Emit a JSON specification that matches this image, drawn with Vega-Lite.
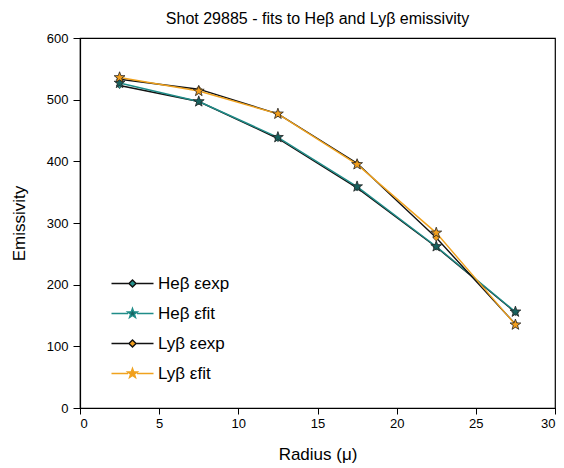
{
  "$schema": "https://vega.github.io/schema/vega-lite/v6.json",
  "width": 475,
  "height": 370,
  "autosize": "none",
  "padding": {"left": 80, "top": 38, "right": 9, "bottom": 60},
  "background": "white",
  "config": {
    "font": "Liberation Sans",
    "view": {"stroke": "black", "strokeWidth": 1.2},
    "axis": {
      "domainColor": "black",
      "domainWidth": 1.2,
      "tickColor": "black",
      "tickWidth": 1,
      "labelColor": "black",
      "labelFont": "Liberation Sans",
      "labelFontSize": 13,
      "titleFont": "Liberation Sans",
      "titleFontSize": 17,
      "titleFontWeight": "normal",
      "titleColor": "black",
      "grid": false,
      "labelOverlap": false
    },
    "title": {"font": "Liberation Sans", "fontSize": 16, "fontWeight": "normal", "color": "black"}
  },
  "title": {"text": "Shot 29885 - fits to Heβ and Lyβ emissivity", "offset": 5},
  "data": {
    "values": [
      {"series": "Heβ εexp", "r": 2.5, "e": 523},
      {"series": "Heβ εexp", "r": 7.5, "e": 497},
      {"series": "Heβ εexp", "r": 12.5, "e": 437},
      {"series": "Heβ εexp", "r": 17.5, "e": 357},
      {"series": "Heβ εexp", "r": 22.5, "e": 261},
      {"series": "Heβ εexp", "r": 27.5, "e": 155},
      {"series": "Heβ εfit", "r": 2.5, "e": 527},
      {"series": "Heβ εfit", "r": 7.5, "e": 497},
      {"series": "Heβ εfit", "r": 12.5, "e": 439},
      {"series": "Heβ εfit", "r": 17.5, "e": 359},
      {"series": "Heβ εfit", "r": 22.5, "e": 262},
      {"series": "Heβ εfit", "r": 27.5, "e": 156},
      {"series": "Lyβ εexp", "r": 2.5, "e": 533},
      {"series": "Lyβ εexp", "r": 7.5, "e": 517},
      {"series": "Lyβ εexp", "r": 12.5, "e": 477},
      {"series": "Lyβ εexp", "r": 17.5, "e": 397},
      {"series": "Lyβ εexp", "r": 22.5, "e": 276},
      {"series": "Lyβ εexp", "r": 27.5, "e": 136},
      {"series": "Lyβ εfit", "r": 2.5, "e": 536},
      {"series": "Lyβ εfit", "r": 7.5, "e": 514},
      {"series": "Lyβ εfit", "r": 12.5, "e": 477},
      {"series": "Lyβ εfit", "r": 17.5, "e": 395},
      {"series": "Lyβ εfit", "r": 22.5, "e": 284},
      {"series": "Lyβ εfit", "r": 27.5, "e": 135}
    ]
  },
  "layer": [
    {
      "transform": [{"filter": "datum.e < 0"}],
      "mark": {"type": "point", "filled": true, "opacity": 1},
      "encoding": {
        "stroke": {
          "field": "series", "type": "nominal",
          "scale": {
            "domain": ["Heβ εexp", "Heβ εfit", "Lyβ εexp", "Lyβ εfit"],
            "range": ["#111111", "#1f8c88", "#111111", "#f0a21e"]
          },
          "legend": {
            "title": null,
            "orient": "none",
            "legendX": 44,
            "legendY": 237,
            "padding": 0,
            "symbolSize": 36,
            "symbolStrokeWidth": 1.4,
            "symbolOffset": 0,
            "labelOffset": 17,
            "labelFontSize": 17,
            "labelFont": "Liberation Sans",
            "labelColor": "black",
            "rowPadding": 12
          }
        },
        "fill": {
          "field": "series", "type": "nominal",
          "scale": {
            "domain": ["Heβ εexp", "Heβ εfit", "Lyβ εexp", "Lyβ εfit"],
            "range": ["#24918c", "#17625f", "#f29e1c", "#f29e1c"]
          }
        },
        "shape": {
          "field": "series", "type": "nominal",
          "scale": {
            "domain": ["Heβ εexp", "Heβ εfit", "Lyβ εexp", "Lyβ εfit"],
            "range": [
              "M-7,0H-1.2M1.2,0H7M0,-1.2L1.2,0L0,1.2L-1.2,0Z",
              "M-7,0H-1.5M1.5,0H7M0,-1.7L0.4,-0.55L1.617,-0.525L0.647,0.21L1,1.375L0,0.68L-1,1.375L-0.647,0.21L-1.617,-0.525L-0.4,-0.55Z",
              "M-7,0H-1.2M1.2,0H7M0,-1.2L1.2,0L0,1.2L-1.2,0Z",
              "M-7,0H-1.5M1.5,0H7M0,-1.7L0.4,-0.55L1.617,-0.525L0.647,0.21L1,1.375L0,0.68L-1,1.375L-0.647,0.21L-1.617,-0.525L-0.4,-0.55Z"
            ]
          }
        }
      }
    },
    {
      "mark": {"type": "line", "strokeWidth": 1.4},
      "encoding": {
        "x": {
          "field": "r", "type": "quantitative",
          "scale": {"domain": [0, 30], "nice": false, "zero": false},
          "axis": {
            "title": "Radius (μ)",
            "values": [0, 2.5, 5, 7.5, 10, 12.5, 15, 17.5, 20, 22.5, 25, 27.5, 30],
            "labelExpr": "datum.value % 5 === 0 ? datum.label : ''",
            "tickSize": {"condition": {"test": "datum.value % 5 !== 0", "value": 3}, "value": 6},
            "labelPadding": 3,
            "titlePadding": 16
          }
        },
        "y": {
          "field": "e", "type": "quantitative",
          "scale": {"domain": [0, 600], "nice": false},
          "axis": {
            "title": "Emissivity",
            "values": [0, 50, 100, 150, 200, 250, 300, 350, 400, 450, 500, 550, 600],
            "labelExpr": "datum.value % 100 === 0 ? datum.label : ''",
            "tickSize": {"condition": {"test": "datum.value % 100 !== 0", "value": 3}, "value": 7},
            "labelPadding": 5,
            "titlePadding": 18
          }
        },
        "detail": {"field": "series"},
        "stroke": {
          "field": "series", "type": "nominal",
          "scale": {
            "domain": ["Heβ εexp", "Heβ εfit", "Lyβ εexp", "Lyβ εfit"],
            "range": ["#111111", "#1f8c88", "#111111", "#f0a21e"]
          }
        }
      }
    },
    {
      "transform": [{"filter": "indexof(datum.series, 'exp') >= 0"}],
      "mark": {"type": "point", "shape": "diamond", "filled": true, "size": 40, "stroke": "#222222", "strokeWidth": 0.6, "opacity": 1},
      "encoding": {
        "x": {"field": "r", "type": "quantitative"},
        "y": {"field": "e", "type": "quantitative"},
        "fill": {
          "field": "series", "type": "nominal",
          "scale": {
            "domain": ["Heβ εexp", "Heβ εfit", "Lyβ εexp", "Lyβ εfit"],
            "range": ["#24918c", "#17625f", "#f29e1c", "#f29e1c"]
          }
        }
      }
    },
    {
      "transform": [{"filter": "indexof(datum.series, 'fit') >= 0"}],
      "mark": {"type": "point", "shape": "M0,-1L0.235,-0.324L0.951,-0.309L0.38,0.124L0.588,0.809L0,0.42L-0.588,0.809L-0.38,0.124L-0.951,-0.309L-0.235,-0.324Z", "filled": true, "size": 130, "stroke": "#222222", "strokeWidth": 0.8, "opacity": 1},
      "encoding": {
        "x": {"field": "r", "type": "quantitative"},
        "y": {"field": "e", "type": "quantitative"},
        "fill": {
          "field": "series", "type": "nominal",
          "scale": {
            "domain": ["Heβ εexp", "Heβ εfit", "Lyβ εexp", "Lyβ εfit"],
            "range": ["#24918c", "#17625f", "#f29e1c", "#f29e1c"]
          }
        }
      }
    }
  ]
}
